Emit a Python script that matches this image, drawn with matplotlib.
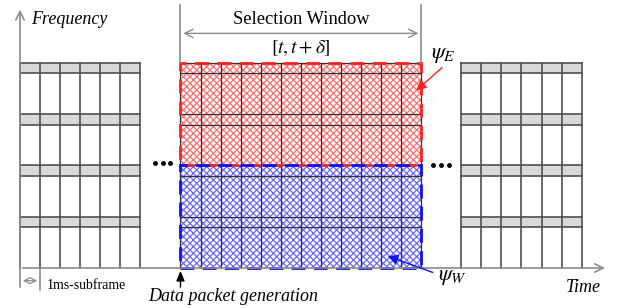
import matplotlib.pyplot as plt
from matplotlib.patches import Rectangle, FancyArrowPatch
import numpy as np

plt.rcParams['font.family'] = 'Liberation Serif'
plt.rcParams['mathtext.fontset'] = 'stix'
plt.rcParams['hatch.linewidth'] = 0.9

# blocks of subframes (start slot, end slot), in 1ms-subframe units
block_slots = [(0, 6), (8, 20), (22, 28)]
# frequency layout: grey control bands (bottom, top), 4 repeats
band_rows = [(3.8, 4.8), (8.6, 9.6), (13.4, 14.4), (18.2, 19.2)]
top = 19.2
split = 9.6          # boundary between psi_W (below) and psi_E (above)
dots_x = [7.11, 20.99]

GRID = '#505050'
AXC = '#8c8c8c'

fig = plt.figure(figsize=(6.23, 3.08), dpi=100)
ax = fig.add_axes([0, 0, 1, 1])
ax.set_xlim(-0.997, 30.06)
ax.set_ylim(-3.74, 25.05)
ax.axis('off')


def grid_block(x0, x1, grey=True, lc=GRID, lw=1.2):
    if grey:
        for b0, b1 in band_rows:
            ax.add_patch(Rectangle((x0, b0), x1 - x0, b1 - b0, fc='#d9d9d9', ec='none', zorder=1))
    for xv in np.arange(x0, x1 + 1):
        ax.plot([xv, xv], [0, top], color=lc, lw=lw, zorder=3)
    for b0, b1 in band_rows:
        ax.plot([x0, x1], [b0, b0], color=lc, lw=lw, zorder=3)
        ax.plot([x0, x1], [b1, b1], color=lc, lw=lw, zorder=3)


# outer blocks
grid_block(*block_slots[0])
grid_block(*block_slots[2])

# selection window block
x0, x1 = block_slots[1]
ax.add_patch(Rectangle((x0, split), x1 - x0, top - split, fc='white', ec='#ff7070',
                       hatch='xxxxx', lw=0, zorder=1))
ax.add_patch(Rectangle((x0, 0), x1 - x0, split, fc='white', ec='#6a6aff',
                       hatch='xxxxx', lw=0, zorder=1))
grid_block(x0, x1, grey=False, lc='#333333', lw=0.9)
ax.add_patch(Rectangle((x0, split), x1 - x0, top - split, fc='none', ec='#ff2020',
                       lw=2, ls=(0, (5, 3)), zorder=4))
ax.add_patch(Rectangle((x0, 0), x1 - x0, split, fc='none', ec='#1010ff',
                       lw=2, ls=(0, (5, 3)), zorder=4))

# axes
ax.add_patch(FancyArrowPatch((0, -2.05), (0, 24.4), arrowstyle='->,head_length=6,head_width=3',
                             color=AXC, lw=1.2, zorder=5))
ax.add_patch(FancyArrowPatch((0, 0), (29.3, 0), arrowstyle='->,head_length=6,head_width=3',
                             color=AXC, lw=1.2, zorder=5))
ax.text(0.55, 23.2, 'Frequency', style='italic', fontsize=13, va='center', ha='left')
ax.text(28.1, -1.8, 'Time', style='italic', fontsize=13, va='center', ha='center')

# selection window markers
for xv in (x0, x1):
    ax.plot([xv, xv], [top, 24.6], color=AXC, lw=1.2, zorder=5)
ax.add_patch(FancyArrowPatch((x0, 21.93), (x1, 21.93), arrowstyle='<->,head_length=6,head_width=3',
                             color=AXC, lw=1.0, zorder=5))
ax.text((x0 + x1) / 2, 23.2, 'Selection Window', fontsize=13.3, ha='center', va='center')
ax.text((x0 + x1) / 2, 20.55, r'$[t, t+\delta]$', fontsize=14, ha='center', va='center')

# dots
for dx, dy in zip(dots_x, [9.8, 9.6]):
    ax.plot([dx - 0.39, dx, dx + 0.39], [dy] * 3, 'o', color='black', ms=2.5, zorder=6)

# psi labels
ax.text(21.1, 19.9, r'$\psi_E$', fontsize=16, ha='center', va='center')
ax.add_patch(FancyArrowPatch((21.14, 18.9), (19.64, 16.4), arrowstyle='-|>,head_length=6,head_width=3',
                             color='#ff2020', lw=1.0, zorder=6))
ax.text(20.85, -0.9, r'$\psi_W$', fontsize=16, ha='left', va='center')
ax.add_patch(FancyArrowPatch((20.7, -0.5), (18.2, 1.2), arrowstyle='-|>,head_length=6,head_width=3',
                             color='#1010ff', lw=1.0, zorder=6))

# 1ms subframe
ax.plot([1, 1], [0, -2.05], color=AXC, lw=1.2)
ax.add_patch(FancyArrowPatch((0, -1.19), (1, -1.19), arrowstyle='<->,head_length=4,head_width=2',
                             color=AXC, lw=0.9))
ax.text(1.35, -1.6, '1ms-subframe', fontsize=10, ha='left', va='center')

# data packet generation
ax.add_patch(FancyArrowPatch((x0, -2.05), (x0, 0), arrowstyle='-|>,head_length=6,head_width=2.5',
                             color='black', lw=1.0, zorder=6))
ax.text(6.38, -2.65, 'Data packet generation', style='italic', fontsize=13, ha='left', va='center')

plt.savefig('out.png', dpi=100)
